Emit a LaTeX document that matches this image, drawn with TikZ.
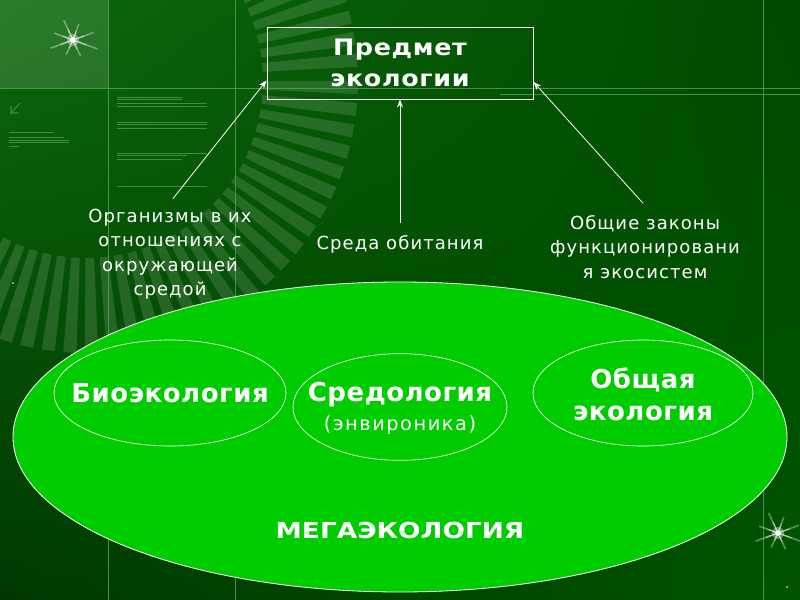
\documentclass[tikz,border=0pt]{standalone}
\usepackage{fontspec}
\setmainfont{DejaVu Sans}
\newfontfamily\lblfont[LetterSpace=6]{DejaVu Sans}
\newfontfamily\ttlfont[LetterSpace=3,FakeStretch=1.12]{DejaVu Sans}
\newfontfamily\inbold[LetterSpace=2]{DejaVu Sans}
\newfontfamily\megafont[FakeStretch=1.2]{DejaVu Sans}
\newfontfamily\subfont[LetterSpace=8]{DejaVu Sans}
\usetikzlibrary{shapes.geometric,arrows.meta,calc,shadings}
\definecolor{bgA}{RGB}{12,104,12}
\definecolor{bgB}{RGB}{0,74,0}
\definecolor{bgC}{RGB}{0,56,0}
\definecolor{bgD}{RGB}{0,84,0}
\definecolor{megagreen}{RGB}{0,204,0}
\definecolor{gridln}{RGB}{90,160,90}
\tikzset{
  arr/.style={draw=white, line width=0.6pt, -{Stealth[length=6pt,width=4.5pt]}},
  lbl/.style={text=white, align=center, inner sep=0pt, font=\lblfont\fontsize{13.5}{18.3}\selectfont},
  ttl/.style={text=white, align=center, font=\ttlfont\bfseries\fontsize{17}{23.25}\selectfont},
  bold/.style={text=white, align=center, inner sep=0pt, font=\inbold\bfseries\fontsize{19.5}{24}\selectfont},
  subell/.style={ellipse, draw=white, line width=0.5pt, inner sep=0pt},
  gridline/.style={draw=gridln, line width=0.5pt, opacity=0.8},
  junk/.style={draw=gridln, line width=0.6pt, opacity=0.7},
}
\begin{document}
\begin{tikzpicture}[x=0.75pt,y=-0.75pt]
\useasboundingbox (0,0) rectangle (800,600);
% background
\shade[upper left=bgA, upper right=bgB, lower left=bgC, lower right=bgD] (0,0) rectangle (800,600);
\fill[white, opacity=0.13] (0,0) rectangle (108,88);
% radial stripes
\begin{scope}
\clip (0,0) rectangle (800,600);
\begin{scope}[shift={(86,81)}]
\foreach \a in {0,4.6,...,355} {
  \fill[white, opacity=0.13] (\a:177) -- (\a:272) -- ({\a+2.8}:272) -- ({\a+2.8}:177) -- cycle;
}
\end{scope}
\end{scope}
% grid lines
\draw[gridline] (108,0) -- (108,600);
\draw[gridline] (235,0) -- (235,600);
\draw[gridline] (763,0) -- (763,600);
\draw[gridline] (0,88) -- (800,88);
\draw[gridline] (500,94) -- (800,94);
% faint decorative lines
\foreach \y/\l in {97/65,99/65,103/90,106/90,122/90,124/90,128/90,153/90,155/70,159/65,186/90} {
  \draw[junk] (117,\y) -- ++(\l,0);
}
\foreach \y/\l in {132/45,137/55,140/60,142/60,146/10} {
  \draw[junk] (9,\y) -- ++(\l,0);
}
\draw[gridln, opacity=0.7, line width=0.8pt] (20,103) -- (11,113) -- (11,106) (11,113) -- (18,113);
% stars
\foreach \sx/\sy in {73/40,778/533} {
  \foreach \a/\l in {20/26,65/18,115/16,160/24,200/20,245/22,290/17,340/22} {
    \draw[white, opacity=0.35, line width=1.2pt] (\sx,\sy) -- ++(\a:\l);
    \draw[white, opacity=0.5, line width=0.8pt] (\sx,\sy) -- ++(\a:{\l*0.55});
  }
  \fill[white, opacity=0.35] (\sx,\sy) circle (6);
  \fill[white] (\sx,\sy) circle (2.8);
}
\fill[white] (13,283) circle (0.8);
\fill[white] (787,587) circle (0.8);
% title box
\node[ttl, draw=white, line width=0.75pt, minimum width=199.5pt, minimum height=54pt] (box) at (400,63) {Предмет\\экологии};
% labels
\node[lbl] (lab1) at (170,254) {Организмы в их\\отношениях с\\окружающей\\средой};
\node[lbl] (lab2) at (400,244) {Среда обитания};
\node[lbl] (lab3) at (645,247) {Общие законы\\функционировани\\я экосистем};
% arrows
\draw[arr] ([shift={(3,-10)}]lab1.north) -- ($(box.south west)!0.26!(box.north west)$);
\draw[arr] ([shift={(0,-12)}]lab2.north) -- (box.south);
\draw[arr] ([shift={(-2,-12)}]lab3.north) -- ($(box.south east)!0.24!(box.north east)$);
% mega ellipse
\node[ellipse, fill=megagreen, draw=white, line width=0.6pt, minimum width=580.5pt, minimum height=232.5pt] (mega) at (400,437) {};
\node[text=white, inner sep=0pt, font=\megafont\bfseries\fontsize{16.5}{20}\selectfont] (megat) at (400,530) {МЕГАЭКОЛОГИЯ};
% inner ellipses
\node[subell, minimum width=174pt, minimum height=79.5pt] (bio) at (170,393) {};
\node[subell, minimum width=160.5pt, minimum height=80pt] (sred) at (400,407) {};
\node[subell, minimum width=165pt, minimum height=79.5pt] (obsh) at (643,393) {};
\node[bold] (biot) at (bio.center) {Биоэкология};
\node[bold] (sredt) at (400,395) {Средология};
\node[text=white, inner sep=0pt, font=\subfont\fontsize{14.5}{17}\selectfont] (sreds) at (400,425) {(энвироника)};
\node[bold] (obsht) at (643,394) {Общая\\экология};
\end{tikzpicture}
\end{document}
